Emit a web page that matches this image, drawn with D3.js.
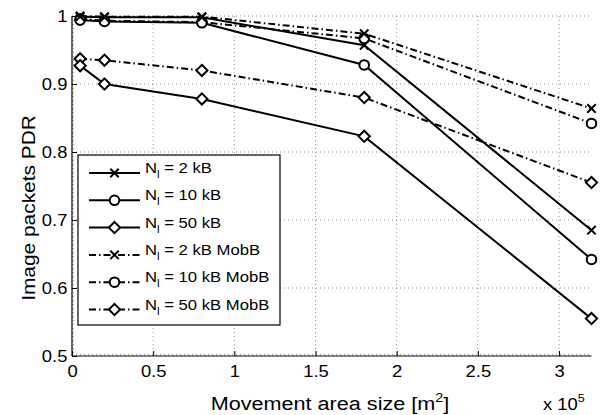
<!DOCTYPE html>
<html><head><meta charset="utf-8">
<script src="https://cdn.jsdelivr.net/npm/d3@7"></script>
<style>body{margin:0;background:#fff}svg{display:block}text{font-family:"Liberation Sans",Arial,sans-serif;fill:#000}</style>
</head><body><svg id="c" width="600" height="415"></svg>
<script>
const xVals = [0.05, 0.2, 0.8, 1.8, 3.2];
const xTicks = [0, 0.5, 1, 1.5, 2, 2.5, 3];
const yTicks = [0.5, 0.6, 0.7, 0.8, 0.9, 1];
const yTickLabels = ["0.5", "0.6", "0.7", "0.8", "0.9", "1"];
const xTickLabels = ["0", "0.5", "1", "1.5", "2", "2.5", "3"];
const s2 = [0.999, 0.998, 0.998, 0.957, 0.685];
const s10 = [0.994, 0.992, 0.990, 0.928, 0.642];
const s50 = [0.927, 0.900, 0.878, 0.823, 0.555];
const m2 = [1.0, 0.999, 0.999, 0.974, 0.864];
const m10 = [0.996, 0.993, 0.991, 0.967, 0.842];
const m50 = [0.937, 0.935, 0.920, 0.880, 0.755];
const seriesNames = ["2 kB", "10 kB", "50 kB", "2 kB MobB", "10 kB MobB", "50 kB MobB"];
const seriesValues = [s2, s10, s50, m2, m10, m50];
const seriesMarkers = ["x", "o", "d", "x", "o", "d"];
const seriesDashed = [false, false, false, true, true, true];

const svg = d3.select("#c");
const L = 72, R = 591.5, T = 16, B = 356;
const x = d3.scaleLinear().domain([0, 3.2]).range([L, R]);
const y = d3.scaleLinear().domain([0.5, 1]).range([B, T]);
const DASH = "7,3,1.5,3";
const SX = 1.15;

// grid
const g = svg.append("g");
const gridStyle = s => s.attr("stroke", "#777").attr("stroke-width", 0.8).attr("stroke-dasharray", "1,3");
xTicks.filter(v => v > 0).forEach(v => g.append("line").attr("x1", x(v)).attr("x2", x(v)).attr("y1", T).attr("y2", B).call(gridStyle));
yTicks.filter(v => v > 0.5).forEach(v => g.append("line").attr("y1", y(v)).attr("y2", y(v)).attr("x1", L).attr("x2", R).call(gridStyle));
g.append("line").attr("x1", L + 1.5).attr("x2", L + 1.5).attr("y1", T).attr("y2", B).call(gridStyle);
g.append("line").attr("y1", B - 1.5).attr("y2", B - 1.5).attr("x1", L).attr("x2", R).call(gridStyle);

// axes
const xa = svg.append("g").attr("transform", `translate(0,${B})`)
  .call(d3.axisBottom(x).tickValues(xTicks).tickSize(-5).tickPadding(10).tickFormat((d, i) => xTickLabels[i]));
const ya = svg.append("g").attr("transform", `translate(${L},0)`)
  .call(d3.axisLeft(y).tickValues(yTicks).tickSize(-5).tickPadding(4).tickFormat((d, i) => yTickLabels[i]));
[xa, ya].forEach(a => {
  a.select(".domain").attr("stroke", "#000").attr("stroke-width", 1.2);
  a.selectAll(".tick line").attr("stroke", "#000").attr("stroke-width", 1);
  a.selectAll(".tick text").attr("font-size", 16).attr("font-family", "Liberation Sans, Arial, sans-serif")
    .attr("transform", `scale(${SX},1)`);
});
xa.select(".domain").attr("d", `M${L},0H${R}`);
ya.select(".domain").attr("d", `M0,${B}V${T}`);

function marker(sel, type, cx, cy) {
  if (type === "x") {
    const r = 4.2;
    sel.append("path").attr("d", `M${cx - r},${cy - r}L${cx + r},${cy + r}M${cx - r},${cy + r}L${cx + r},${cy - r}`)
      .attr("stroke", "#000").attr("stroke-width", 2).attr("fill", "none");
  } else if (type === "o") {
    sel.append("circle").attr("cx", cx).attr("cy", cy).attr("r", 4.8).attr("fill", "#fff").attr("stroke", "#000").attr("stroke-width", 2);
  } else {
    const r = 5.6;
    sel.append("path").attr("d", `M${cx},${cy - r}L${cx + r},${cy}L${cx},${cy + r}L${cx - r},${cy}Z`)
      .attr("fill", "#fff").attr("stroke", "#000").attr("stroke-width", 2);
  }
}

const line = d3.line().x((d, i) => x(xVals[i])).y(d => y(d));
const order = [5, 4, 3, 2, 1, 0];
order.forEach(k => {
  const sg = svg.append("g");
  sg.append("path").attr("d", line(seriesValues[k])).attr("fill", "none").attr("stroke", "#000")
    .attr("stroke-width", 2).attr("stroke-dasharray", seriesDashed[k] ? DASH : null);
  seriesValues[k].forEach((v, i) => marker(sg, seriesMarkers[k], x(xVals[i]), y(v)));
});

// legend
const lg = svg.append("g");
lg.append("rect").attr("x", 78).attr("y", 155).attr("width", 202).attr("height", 170).attr("fill", "#fff").attr("stroke", "#000").attr("stroke-width", 1.2);
seriesNames.forEach((n, i) => {
  const cy = 173 + i * 27.3;
  lg.append("line").attr("x1", 89).attr("x2", 140).attr("y1", cy).attr("y2", cy).attr("stroke", "#000").attr("stroke-width", 2)
    .attr("stroke-dasharray", seriesDashed[i] ? DASH : null);
  marker(lg, seriesMarkers[i], 114.5, cy);
  const t = lg.append("text").attr("transform", `translate(145,${cy}) scale(${SX},1)`).attr("font-size", 14.5);
  t.append("tspan").text("N");
  t.append("tspan").attr("font-size", 10).attr("dy", 5).text("l");
  t.append("tspan").attr("dy", -5).text(" = " + n);
});

// labels
svg.append("text").attr("transform", `translate(330,410) scale(${SX},1)`).attr("text-anchor", "middle").attr("font-size", 18.8)
  .html('Movement area size [m<tspan dy="-8" font-size="12.5">2</tspan><tspan dy="8">]</tspan>');
svg.append("text").attr("transform", `translate(35,208) rotate(-90) scale(1.13,1)`).attr("text-anchor", "middle").attr("font-size", 18.5).text("Image packets PDR");
svg.append("text").attr("transform", `translate(543,410) scale(${SX},1)`).attr("font-size", 16)
  .html('x 10<tspan dy="-8" font-size="11">5</tspan>');
</script></body></html>
